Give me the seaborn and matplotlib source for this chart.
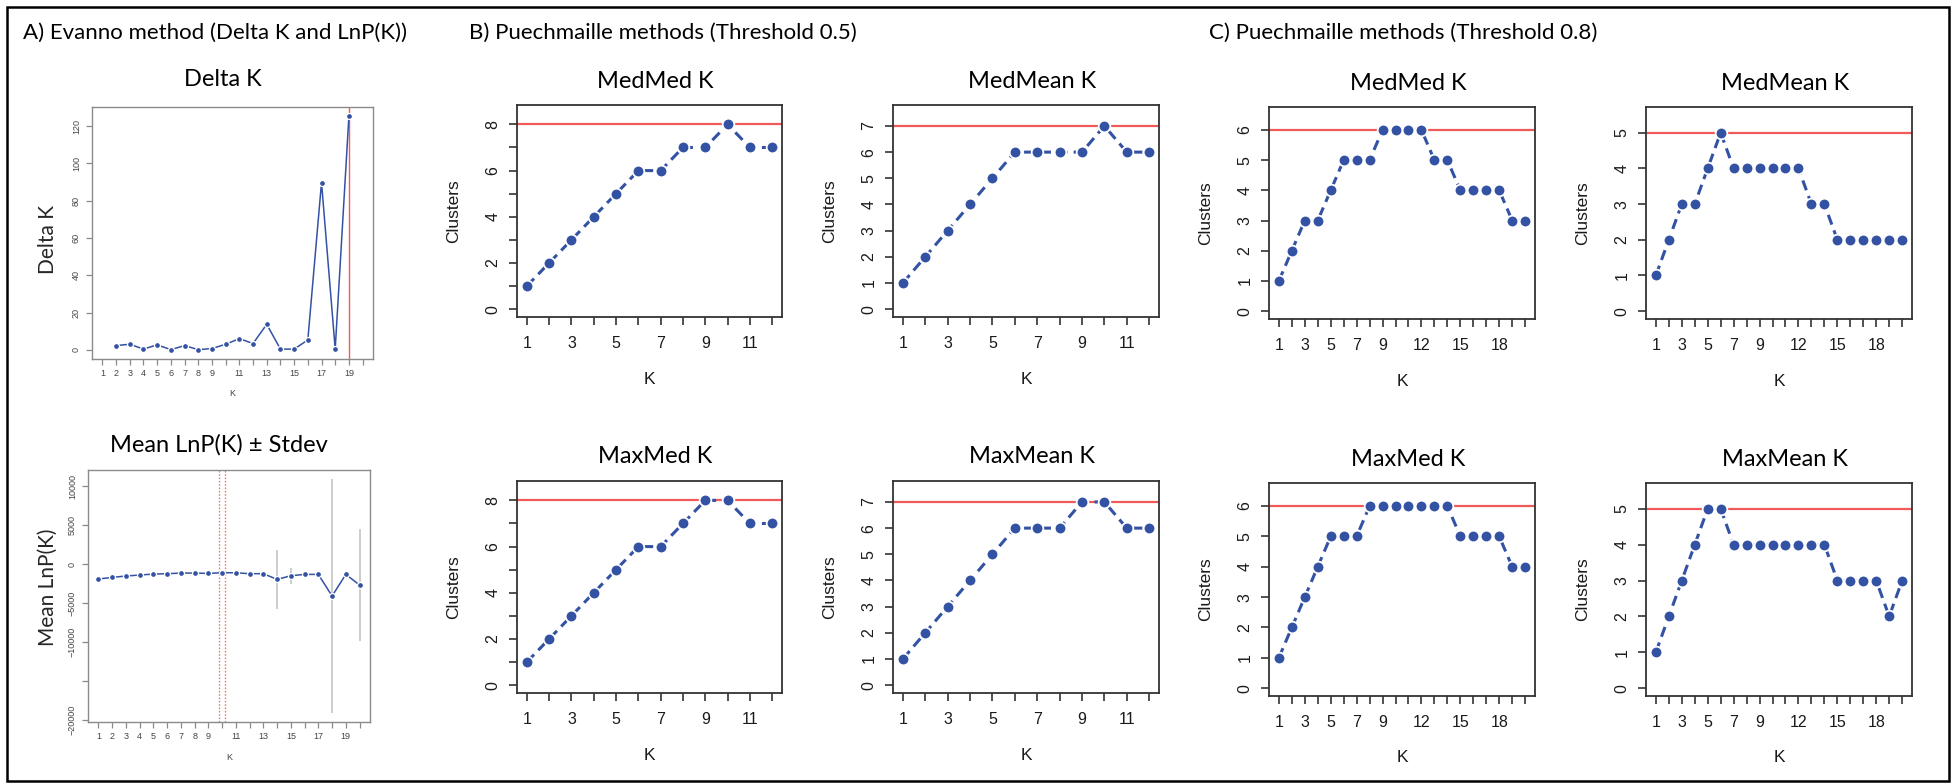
import matplotlib
matplotlib.use("Agg")
import matplotlib.pyplot as plt
from matplotlib.patches import Rectangle
import seaborn as sns

# ---------------- data ----------------
# Evanno Delta K (defined for K = 2..19)
k_delta = list(range(2, 20))
delta_k = [2.3, 3.0, 0.4, 2.7, 0.1, 2.3, 0.1, 0.7, 3.0, 6.0, 3.4, 13.7,
           0.4, 0.4, 5.3, 89.7, 0.4, 125.2]
best_k_delta = 19

# Mean LnP(K) +/- standard deviation
k_lnp = list(range(1, 21))
mean_lnp = [-1915, -1700, -1530, -1400, -1280, -1230, -1150, -1150, -1190, -1110,
            -1110, -1230, -1230, -1960, -1490, -1320, -1320, -4090, -1320, -2680]
sd_lnp = [60, 50, 45, 40, 40, 35, 35, 35, 40, 35,
          40, 45, 45, 3790, 1040, 60, 70, 14960, 90, 7190]
best_k_lnp = 10

# Puechmaille estimators, threshold 0.5 (K = 1..12)
k_b = list(range(1, 13))
b_medmed = [1, 2, 3, 4, 5, 6, 6, 7, 7, 8, 7, 7]
b_medmean = [1, 2, 3, 4, 5, 6, 6, 6, 6, 7, 6, 6]
b_maxmed = [1, 2, 3, 4, 5, 6, 6, 7, 8, 8, 7, 7]
b_maxmean = [1, 2, 3, 4, 5, 6, 6, 6, 7, 7, 6, 6]
b_chosen = [8, 7, 8, 7]

# Puechmaille estimators, threshold 0.8 (K = 1..20)
k_c = list(range(1, 21))
c_medmed = [1, 2, 3, 3, 4, 5, 5, 5, 6, 6, 6, 6, 5, 5, 4, 4, 4, 4, 3, 3]
c_medmean = [1, 2, 3, 3, 4, 5, 4, 4, 4, 4, 4, 4, 3, 3, 2, 2, 2, 2, 2, 2]
c_maxmed = [1, 2, 3, 4, 5, 5, 5, 6, 6, 6, 6, 6, 6, 6, 5, 5, 5, 5, 4, 4]
c_maxmean = [1, 2, 3, 4, 5, 5, 4, 4, 4, 4, 4, 4, 4, 4, 3, 3, 3, 3, 2, 3]
c_chosen = [6, 5, 6, 5]

estimator_titles = ["MedMed K", "MedMean K", "MaxMed K", "MaxMean K"]
panel_titles = ["A) Evanno method (Delta K and LnP(K))",
                "B) Puechmaille methods (Threshold 0.5)",
                "C) Puechmaille methods (Threshold 0.8)"]

# tick labels that are printed (other ticks stay unlabeled)
xlab_a = [1, 2, 3, 4, 5, 6, 7, 8, 9, 11, 13, 15, 17, 19]
xlab_b = [1, 3, 5, 7, 9, 11]
xlab_c = [1, 3, 5, 7, 9, 12, 15, 18]
yticks_delta = [0, 20, 40, 60, 80, 100, 120]
yticks_lnp = [10000, 5000, 0, -5000, -10000, -15000, -20000]
ylab_lnp = [10000, 5000, 0, -5000, -10000, -20000]

# ---------------- style ----------------
sns.set_style("white")
plt.rcParams["font.family"] = ["Liberation Sans", "DejaVu Sans"]
TITLE_FONT = ["Lato", "DejaVu Sans"]
BLUE = "#3452a4"
RED = "#f05a5a"

W, H = 1959, 784
fig = plt.figure(figsize=(W / 100, H / 100), dpi=100)


def px_axes(x0, y0, x1, y1):
    return fig.add_axes([x0 / W, 1 - y1 / H, (x1 - x0) / W, (y1 - y0) / H])


def r_range(lo, hi):
    pad = 0.04 * (hi - lo)
    return lo - pad, hi + pad


def add_title(ax, text, dx, dy, size):
    ax.annotate(text, xy=(0.5, 1), xycoords="axes fraction", xytext=(dx, dy),
                textcoords="offset pixels", ha="center", va="center",
                family=TITLE_FONT, fontsize=size, color="black")


def puech_panel(ax, k, vals, chosen, xlabels, ylabel_step, title):
    ax.axhline(chosen, color=RED, lw=1.6, zorder=1)
    sns.lineplot(x=k, y=vals, ax=ax, color=BLUE, lw=2.2,
                 linestyle=(0, (3.4, 2.0)), marker="o", markersize=8.4,
                 markeredgecolor="white", markeredgewidth=1.3,
                 errorbar=None, zorder=3)
    ax.set_xlim(*r_range(1, max(k)))
    top = max(vals) + 0.5
    ax.set_ylim(*r_range(0, top))
    ax.set_xticks(k)
    ax.set_xticklabels([str(v) if v in xlabels else "" for v in k])
    yt = list(range(0, max(vals) + 1))
    ax.set_yticks(yt)
    ax.set_yticklabels([str(v) if v % ylabel_step == 0 else "" for v in yt])
    for s in ax.spines.values():
        s.set_color("#333333")
        s.set_linewidth(1.3)
    ax.tick_params(axis="both", direction="out", length=6, width=1.2,
                   colors="#333333", labelcolor="#1a1a1a", labelsize=11.5)
    ax.tick_params(axis="x", pad=8, bottom=True)
    ax.tick_params(axis="y", pad=6, labelrotation=90, left=True)
    for lab in ax.get_yticklabels():
        lab.set_va("center")
    ax.set_ylabel("Clusters", fontsize=12.5, va="center", color="#1a1a1a")
    ax.set_xlabel("K", fontsize=12.5, va="center", color="#1a1a1a")
    w = ax.get_position().width * W
    h = ax.get_position().height * H
    ax.yaxis.set_label_coords(-63 / w, 0.5)
    ax.xaxis.set_label_coords(0.5, -62 / h)
    add_title(ax, title, 6, 24, 17)


# ---------------- panel A: Delta K ----------------
ax = px_axes(92, 107, 373, 359)
ax.axvline(best_k_delta, color=RED, lw=1.0, zorder=1)
sns.lineplot(x=k_delta, y=delta_k, ax=ax, color=BLUE, lw=1.1, marker="o",
             markersize=4.3, markeredgecolor="white", markeredgewidth=0.9,
             errorbar=None, zorder=3)
ax.set_xlim(*r_range(1, 20))
ax.set_ylim(*r_range(min(delta_k), max(delta_k)))
ax.set_xticks(k_lnp)
ax.set_xticklabels([str(v) if v in xlab_a else "" for v in k_lnp])
ax.set_yticks(yticks_delta)
ax.set_yticklabels([str(v) for v in yticks_delta])
for s in ax.spines.values():
    s.set_color("#8a8a8a")
    s.set_linewidth(1.0)
ax.tick_params(axis="both", direction="out", length=4, width=0.9,
               colors="#8a8a8a", labelcolor="#444444", labelsize=6.5)
ax.tick_params(axis="x", pad=3, bottom=True)
ax.tick_params(axis="y", pad=4, labelrotation=90, left=True)
for lab in ax.get_yticklabels():
    lab.set_va("center")
ax.set_ylabel("Delta K", family=TITLE_FONT, fontsize=15, va="center")
ax.set_xlabel("K", fontsize=6.5, va="center", color="#444444")
ax.yaxis.set_label_coords(-44 / 281, 0.476)
ax.xaxis.set_label_coords(0.5, -34 / 252)
add_title(ax, "Delta K", -10, 27, 17)

# ---------------- panel A: Mean LnP(K) ----------------
ax = px_axes(88, 470, 370, 722)
lo = [m - s for m, s in zip(mean_lnp, sd_lnp)]
hi = [m + s for m, s in zip(mean_lnp, sd_lnp)]
ax.vlines(k_lnp, lo, hi, color="#c4c4c4", lw=1.2, zorder=1)
for dx in (-0.2, 0.2):
    ax.axvline(best_k_lnp + dx, color="#f07a7a", lw=1.0, ls=(0, (1.2, 1.2)), zorder=1)
sns.lineplot(x=k_lnp, y=mean_lnp, ax=ax, color=BLUE, lw=1.1, marker="o",
             markersize=4.3, markeredgecolor="white", markeredgewidth=0.9,
             errorbar=None, zorder=3)
ax.set_xlim(*r_range(1, 20))
ax.set_ylim(*r_range(min(lo), max(hi)))
ax.set_xticks(k_lnp)
ax.set_xticklabels([str(v) if v in xlab_a else "" for v in k_lnp])
ax.set_yticks(yticks_lnp)
ax.set_yticklabels([str(v).replace("-", "\u2212") if v in ylab_lnp else "" for v in yticks_lnp])
for s in ax.spines.values():
    s.set_color("#8a8a8a")
    s.set_linewidth(1.0)
ax.tick_params(axis="both", direction="out", length=4, width=0.9,
               colors="#8a8a8a", labelcolor="#444444", labelsize=6.5)
ax.tick_params(axis="x", pad=3, bottom=True)
ax.tick_params(axis="y", pad=4, labelrotation=90, left=True)
for lab in ax.get_yticklabels():
    lab.set_va("center")
ax.set_ylabel("Mean LnP(K)", family=TITLE_FONT, fontsize=15, va="center")
ax.set_xlabel("K", fontsize=6.5, va="center", color="#444444")
ax.yaxis.set_label_coords(-40 / 282, 0.536)
ax.xaxis.set_label_coords(0.5, -35 / 252)
add_title(ax, "Mean LnP(K) \u00b1 Stdev", -10, 25, 17)

# ---------------- panels B and C ----------------
b_series = [b_medmed, b_medmean, b_maxmed, b_maxmean]
c_series = [c_medmed, c_medmean, c_maxmed, c_maxmean]
b_boxes = [(517, 105, 782, 317), (893, 105, 1159, 317),
           (517, 481, 782, 693), (893, 481, 1159, 693)]
c_boxes = [(1269, 107, 1535, 319), (1646, 107, 1912, 319),
           (1269, 483, 1535, 696), (1646, 483, 1912, 696)]
b_steps = [2, 1, 2, 1]

for box, vals, chosen, step, title in zip(b_boxes, b_series, b_chosen, b_steps, estimator_titles):
    puech_panel(px_axes(*box), k_b, vals, chosen, xlab_b, step, title)

for box, vals, chosen, title in zip(c_boxes, c_series, c_chosen, estimator_titles):
    puech_panel(px_axes(*box), k_c, vals, chosen, xlab_c, 1, title)

# ---------------- panel headings and frame ----------------
for text, x in zip(panel_titles, (23, 469, 1209)):
    fig.text(x / W, 1 - 33 / H, text, family=TITLE_FONT, fontsize=16,
             ha="left", va="center", color="black")

fig.patches.append(Rectangle((7 / W, 1 - 781 / H), (1949 - 7) / W, (781 - 7) / H,
                             transform=fig.transFigure, fill=False,
                             ec="black", lw=1.8))

fig.savefig("out.png", dpi=100, facecolor="white")
